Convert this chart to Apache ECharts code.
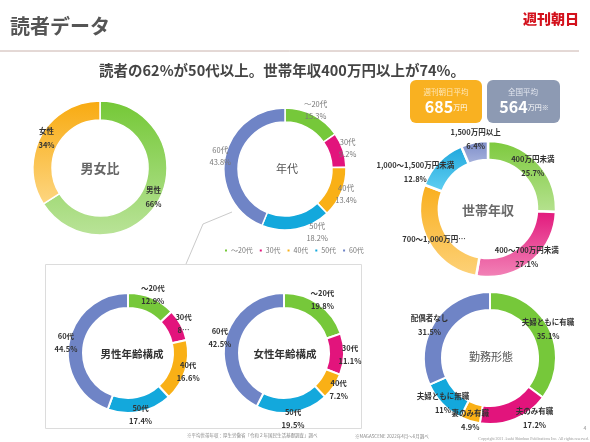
<!DOCTYPE html>
<html><head><meta charset="utf-8">
<script src="https://cdn.jsdelivr.net/npm/echarts@6/dist/echarts.min.js"></script>
<style>html,body{margin:0;padding:0;background:#fff}#c{width:590px;height:442px}</style>
</head><body><div id="c"></div>
<script>
// ---- data ----
const sexNames = ['男性', '女性'];
const sexValues = [66, 34];
const ageNames = ['～20代', '30代', '40代', '50代', '60代'];
const ageValues = [15.3, 9.2, 13.4, 18.2, 43.8];
const incomeNames = ['400万円未満', '400～700万円未満', '700～1,000万円未満', '1,000～1,500万円未満', '1,500万円以上'];
const incomeValues = [25.7, 27.1, 28.0, 12.8, 6.4];
const maleAgeValues = [12.9, 8.6, 16.6, 17.4, 44.5];
const femaleAgeValues = [19.8, 11.1, 7.2, 19.5, 42.5];
const workNames = ['夫婦ともに有職', '夫のみ有職', '妻のみ有職', '夫婦ともに無職', '配偶者なし'];
const workValues = [35.1, 17.2, 4.9, 11, 31.5];
const avgLabels = ['週刊朝日平均', '全国平均'];
const avgValues = [685, 564];

const FONT = '"Noto Sans CJK JP", "Noto Sans", sans-serif';
const chart = echarts.init(document.getElementById('c'), null, {renderer: 'canvas'});

const solid = ['#76c83a', '#e2147c', '#f9b016', '#13a8dc', '#6f84c6'];
function grad(a, b) {
  return new echarts.graphic.LinearGradient(0, 0, 0, 1, [{offset: 0, color: a}, {offset: 1, color: b}]);
}
const sexColors = [grad('#74c836', '#b9e398'), grad('#f8aa10', '#fdd681')];
const incomeColors = [grad('#7cc93c', '#b6e290'), grad('#e2167b', '#f285b8'), grad('#f9ae1c', '#fdd27a'),
                      grad('#1ea6dc', '#62d0f2'), grad('#7a8ac8', '#a9b5de')];

function donut(opt) {
  const items = opt.names.map((n, i) => ({name: n, value: opt.values[i], itemStyle: {color: opt.colors[i]}}));
  const labelItems = opt.names.map((n, i) => {
    const d = {name: n, value: opt.values[i]};
    if (opt.override && opt.override[i]) d.label = {formatter: opt.override[i]};
    return d;
  });
  const shift = opt.shift || {};
  const ring = {
    type: 'pie', center: opt.center, radius: opt.radius, startAngle: 90, clockwise: true,
    silent: true, animation: false, avoidLabelOverlap: false,
    label: {show: false}, labelLine: {show: false},
    itemStyle: {borderColor: '#fff', borderWidth: opt.border},
    emphasis: {disabled: true},
    data: items
  };
  const lab = {
    type: 'pie', center: opt.center, radius: [opt.labelR - 5, opt.labelR + 5], startAngle: 90, clockwise: true,
    silent: true, animation: false, avoidLabelOverlap: false, z: 5,
    itemStyle: {color: 'rgba(0,0,0,0)'},
    labelLine: {show: false},
    emphasis: {disabled: true},
    labelLayout: function (p) {
      const s = shift[p.dataIndex];
      return {hideOverlap: false, moveOverlap: null, dx: s ? s[0] : 0, dy: s ? s[1] : 0};
    },
    label: {
      show: true, position: 'inside', formatter: opt.formatter || '{b}\n{c}%',
      color: opt.labelColor || '#333', fontSize: opt.fontSize || 7.5, fontWeight: opt.fontWeight || 'bold',
      lineHeight: opt.lineHeight || 13, fontFamily: FONT
    },
    data: labelItems
  };
  return [ring, lab];
}

const series = [].concat(
  donut({names: sexNames, values: sexValues, colors: sexColors, center: [100, 168], radius: [48, 67], border: 1.5, labelR: 58, lineHeight: 14}),
  donut({names: ageNames, values: ageValues, colors: solid, center: [285, 169], radius: [47, 61], border: 1.5, labelR: 63,
         labelColor: '#777', fontWeight: 'normal', fontSize: 7.5, lineHeight: 12, shift: {3: [20, -2]}}),
  donut({names: incomeNames, values: incomeValues, colors: incomeColors, center: [488, 209], radius: [49, 68], border: 2.5, labelR: 59,
         lineHeight: 14, override: {2: '700～1,000万円…'}, shift: {3: [-28, 6], 4: [0, -9]}}),
  donut({names: ageNames, values: maleAgeValues, colors: solid, center: [128, 353], radius: [45, 60], border: 2, labelR: 60,
         lineHeight: 13, override: {1: '30代\n8…'}}),
  donut({names: ageNames, values: femaleAgeValues, colors: solid, center: [284, 353], radius: [45, 60], border: 2, labelR: 63, lineHeight: 13}),
  donut({names: workNames, values: workValues, colors: solid, center: [490, 358], radius: [48, 66], border: 2, labelR: 62, lineHeight: 14,
         shift: {1: [20, 0], 4: [-6, 3]}})
);

function ctext(x, y, text, size, color, weight) {
  return {type: 'text', x: x, y: y, z: 10, silent: true,
    style: {text: text, fontSize: size, fill: color, fontWeight: weight || 'normal', fontFamily: FONT,
            align: 'center', verticalAlign: 'middle'}};
}

const graphics = [
  {type: 'text', x: 10, y: 26, style: {text: '読者データ', fontSize: 20, fontWeight: 'bold', fill: '#555', fontFamily: FONT, verticalAlign: 'middle'}},
  {type: 'text', x: 579, y: 19, style: {text: '週刊朝日', fontSize: 14, fontWeight: 900, fill: '#d3111c', fontFamily: FONT, align: 'right', verticalAlign: 'middle'}},
  {type: 'line', shape: {x1: 0, y1: 51, x2: 579, y2: 51}, style: {stroke: '#c9b2ac', lineWidth: 1}},
  ctext(282, 70, '読者の62%が50代以上。世帯年収400万円以上が74%。', 14.5, '#444', 'bold'),
  {type: 'rect', shape: {x: 410, y: 80, width: 72, height: 43, r: 6}, style: {fill: '#f9b121'}},
  {type: 'rect', shape: {x: 487, y: 80, width: 73, height: 43, r: 6}, style: {fill: '#8d9ab3'}},
  ctext(446, 92, avgLabels[0], 7.5, '#fde7b8'),
  ctext(523, 92, avgLabels[1], 7.5, '#e3e7ef'),
  {type: 'text', x: 446, y: 107, style: {text: '{a|' + avgValues[0] + '}{b|万円}', align: 'center', verticalAlign: 'middle',
    rich: {a: {fontSize: 16, fontWeight: 'bold', fill: '#fff', fontFamily: FONT}, b: {fontSize: 7, fill: '#fff', fontFamily: FONT}}}},
  {type: 'text', x: 524, y: 107, style: {text: '{a|' + avgValues[1] + '}{b|万円※}', align: 'center', verticalAlign: 'middle',
    rich: {a: {fontSize: 16, fontWeight: 'bold', fill: '#fff', fontFamily: FONT}, b: {fontSize: 7, fill: '#fff', fontFamily: FONT}}}},
  {type: 'rect', shape: {x: 45.5, y: 264.5, width: 316, height: 164}, style: {fill: 'none', stroke: '#dcdcdc', lineWidth: 1}},
  {type: 'polyline', shape: {points: [[232, 212], [203, 224], [186, 264]]}, style: {stroke: '#bdbdbd', lineWidth: 0.8, fill: 'none'}},
  ctext(100, 168, '男女比', 13, '#666', 'bold'),
  ctext(287, 169, '年代', 11, '#555'),
  ctext(488, 210, '世帯年収', 13, '#6a6a6a', 'bold'),
  ctext(132, 354, '男性年齢構成', 10.5, '#333', 'bold'),
  ctext(285, 354, '女性年齢構成', 10.5, '#333', 'bold'),
  ctext(491, 357, '勤務形態', 11, '#555'),
  {type: 'text', x: 187, y: 435, style: {text: '※平均世帯年収：厚生労働省「令和２年国民生活基礎調査」調べ', fontSize: 4.5, fill: '#888', fontFamily: FONT, verticalAlign: 'middle'}},
  {type: 'text', x: 355, y: 436, style: {text: '※MAGASCENE 2022年4月～6月調べ', fontSize: 4.5, fill: '#888', fontFamily: FONT, verticalAlign: 'middle'}},
  {type: 'text', x: 589, y: 439, style: {text: 'Copyright 2021 Asahi Shimbun Publications Inc. All rights reserved.', fontSize: 4, fill: '#999', fontFamily: '"Liberation Serif", serif', align: 'right', verticalAlign: 'middle'}},
  {type: 'text', x: 585, y: 428, style: {text: '4', fontSize: 5, fill: '#888', fontFamily: FONT, align: 'center', verticalAlign: 'middle'}}
];

chart.setOption({
  animation: false,
  backgroundColor: '#fff',
  textStyle: {fontFamily: FONT},
  legend: {
    data: ageNames, left: 218, top: 242, icon: 'rect', itemWidth: 4, itemHeight: 4, itemGap: 5,
    textStyle: {fontSize: 7, color: '#777', fontFamily: FONT, padding: [0, 0, 0, -2]},
    selectedMode: false
  },
  series: series,
  graphic: graphics
});
</script></body></html>
